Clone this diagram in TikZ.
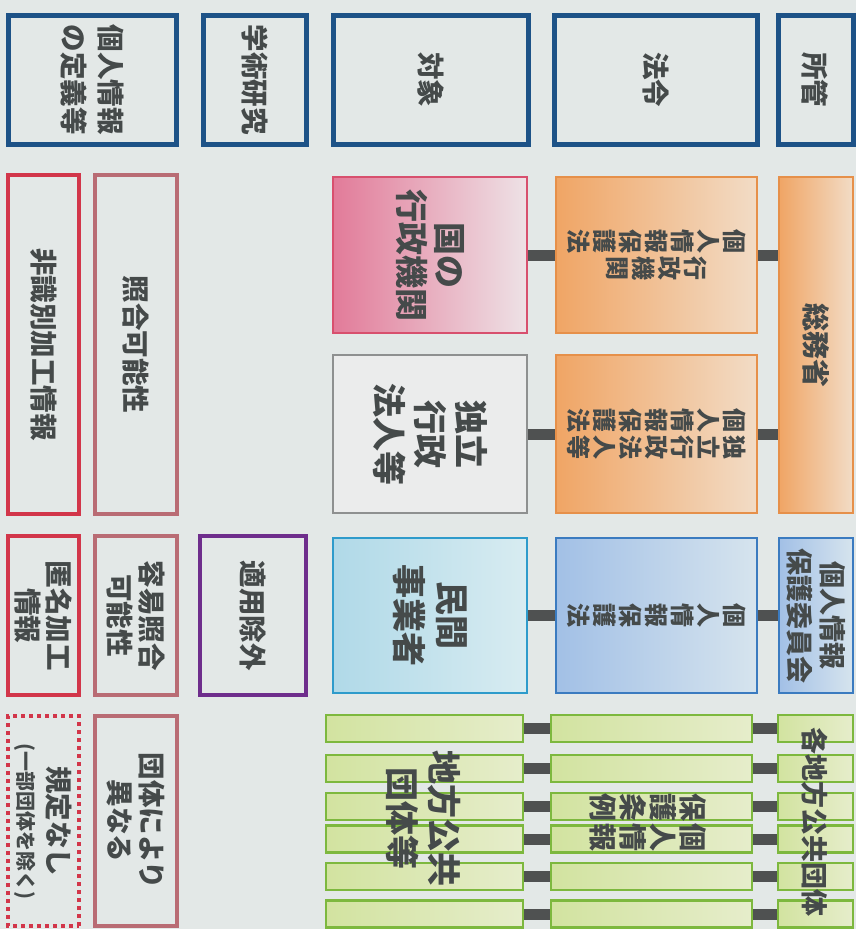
\documentclass[tikz,border=0pt]{standalone}
\usepackage{fontspec}
\setmainfont{Noto Sans CJK JP}
\definecolor{paper}{HTML}{E3E8E7}
\definecolor{ink}{HTML}{454A4A}
\definecolor{hdrBlue}{HTML}{1D5287}
\definecolor{idRed}{HTML}{D2364A}
\definecolor{matchRed}{HTML}{B96C74}
\definecolor{exPurple}{HTML}{6E2D8C}
\definecolor{govRed}{HTML}{D8506E}
\definecolor{govDeep}{HTML}{E27B99}
\definecolor{govPale}{HTML}{EEE2E6}
\definecolor{lawOrange}{HTML}{E6904A}
\definecolor{lawDeep}{HTML}{F0A565}
\definecolor{lawPale}{HTML}{F2DCC6}
\definecolor{incGray}{HTML}{8E9090}
\definecolor{incPale}{HTML}{EBECEC}
\definecolor{pvtBlue}{HTML}{2E9BCB}
\definecolor{pvtDeep}{HTML}{B0D9E8}
\definecolor{pvtPale}{HTML}{D8ECF1}
\definecolor{actBlue}{HTML}{3B7BC0}
\definecolor{actDeep}{HTML}{A2C0E6}
\definecolor{actPale}{HTML}{D6E4EE}
\definecolor{locGreen}{HTML}{7DB83E}
\definecolor{locDeep}{HTML}{D2E3A0}
\definecolor{locPale}{HTML}{E6EDCB}
\definecolor{linkGray}{HTML}{4F5151}
\tikzset{
    cell/.style={rectangle, rotate=-90, align=center, text=ink, inner sep=0pt, font=\bfseries\fontsize{27.5}{34}\selectfont},
    cellHead/.style={cell, draw=hdrBlue, line width=5pt},
    cellId/.style={cell, draw=idRed, line width=4pt},
    cellMatch/.style={cell, draw=matchRed, line width=4pt},
    cellEx/.style={cell, draw=exPurple, line width=4pt},
    cellGov/.style={cell, draw=govRed, line width=1.6pt, left color=govDeep, right color=govPale},
    cellInc/.style={cell, draw=incGray, line width=1.6pt, fill=incPale},
    cellPvt/.style={cell, draw=pvtBlue, line width=1.6pt, left color=pvtDeep, right color=pvtPale},
    cellLaw/.style={cell, draw=lawOrange, line width=1.6pt, left color=lawDeep, right color=lawPale},
    cellAct/.style={cell, draw=actBlue, line width=1.6pt, left color=actDeep, right color=actPale},
    cellLoc/.style={cell, draw=locGreen, line width=2.4pt, left color=locDeep, right color=locPale},
    txt/.style={rotate=-90, align=center, text=ink, inner sep=0pt},
    barLink/.style={draw=linkGray, line width=11pt},
}
% 縦書きの一列
\newcommand{\tate}[1]{\parbox{1em}{\centering\lineskiplimit=-20pt #1}}
% 回転したノードでは north が右側
\newcommand{\drawLink}[2]{
    \draw[barLink] (#1.north) -- (#1.north -| #2.south);
}

\begin{document}
\begin{tikzpicture}[x=1pt, y=-1pt]
        \useasboundingbox (0,0) rectangle (856,929);
        \fill[paper] (0,0) rectangle (856,929);

        \node[cellHead, minimum width=129, minimum height=168, font=\bfseries\fontsize{27.5}{37}\selectfont] (defn) at (92,79.5) {個人情報\\の定義等};
        \node[cellHead, minimum width=129, minimum height=103] (acad) at (254.5,79.5) {学術研究};
        \node[cellHead, minimum width=129, minimum height=195] (target) at (430.5,79.5) {対象};
        \node[cellHead, minimum width=129, minimum height=203] (act) at (656,79.5) {法令};
        \node[cellHead, minimum width=129, minimum height=75] (juris) at (815.5,79.5) {所管};

        \node[cellId, minimum width=339, minimum height=71] (nonid) at (43.5,344.5) {非識別加工情報};
        \node[cellMatch, minimum width=339, minimum height=82] (match) at (136,344.5) {照合可能性};
        \node[cellId, minimum width=159, minimum height=71, font=\bfseries\fontsize{27.5}{31}\selectfont] (anon) at (43.5,615.5) {匿名加工\\情報};
        \node[cellMatch, minimum width=159, minimum height=82, font=\bfseries\fontsize{27.5}{32}\selectfont] (easy) at (136,615.5) {容易照合\\可能性};
        \node[cellEx, minimum width=159, minimum height=106] (exempt) at (253,615.5) {適用除外};
        \node[cellId, minimum width=210, minimum height=71, dash pattern=on 4pt off 4pt, font=\bfseries\fontsize{27.5}{30}\selectfont] (none) at (43.5,821) {規定なし\\{\fontsize{20}{24}\selectfont(一部団体を除く)}};
        \node[cellMatch, minimum width=210, minimum height=82, font=\bfseries\fontsize{27.5}{32}\selectfont] (vary) at (136,821) {団体により\\異なる};

        \node[cellGov, minimum width=156, minimum height=194, font=\bfseries\fontsize{33}{38}\selectfont] (gov) at (430,255) {国の\\行政機関};
        \node[cellInc, minimum width=158, minimum height=194, font=\bfseries\fontsize{34}{41}\selectfont] (inc) at (430,434) {独立\\行政\\法人等};
        \node[cellPvt, minimum width=155, minimum height=194, font=\bfseries\fontsize{34}{43}\selectfont] (pvt) at (430,615.5) {民間\\事業者};

        \node[cellLaw, minimum width=156, minimum height=201, font=\bfseries\fontsize{24}{26}\selectfont] (lawGov) at (656.5,255) {\tate{個\\人\\情\\報\\保\\護\\法}\hspace{3pt}\tate{行\\政\\機\\関}};
        \node[cellLaw, minimum width=158, minimum height=201, font=\bfseries\fontsize{24}{26}\selectfont] (lawInc) at (656.5,434) {\tate{個\\人\\情\\報\\保\\護\\法}\hspace{3pt}\tate{独\\立\\行\\政\\法\\人\\等}};
        \node[cellAct, minimum width=155, minimum height=201, font=\bfseries\fontsize{24}{26}\selectfont] (lawPvt) at (656.5,615.5) {\tate{個\\人\\情\\報\\保\\護\\法}};

        \node[cellLaw, minimum width=336, minimum height=74, font=\bfseries\fontsize{28}{32}\selectfont] (mic) at (816,345) {総務省};
        \node[cellAct, minimum width=155, minimum height=74, font=\bfseries\fontsize{27}{33}\selectfont] (ppc) at (816,615.5) {個人情報\\保護委員会};

        \drawLink{gov}{lawGov}
        \drawLink{lawGov}{mic}
        \drawLink{inc}{lawInc}
        \drawLink{lawInc}{mic}
        \drawLink{pvt}{lawPvt}
        \drawLink{lawPvt}{ppc}

        \foreach \y [count=\i] in {728.5,768.5,806.5,839,876.5,914}{
            \node[cellLoc, minimum width=27, minimum height=197] (loc\i) at (424.5,\y) {};
            \node[cellLoc, minimum width=27, minimum height=201] (ord\i) at (651.5,\y) {};
            \node[cellLoc, minimum width=27, minimum height=75] (pref\i) at (815.5,\y) {};
            \drawLink{loc\i}{ord\i}
            \drawLink{ord\i}{pref\i}
        }

        \node[txt, font=\bfseries\fontsize{34}{42}\selectfont] (locTxt) at (424,818) {地方公共\\団体等};
        \node[txt, font=\bfseries\fontsize{28}{30}\selectfont] (ordTxt) at (648,822) {\tate{保\\護\\条\\例}\hspace{2pt}\tate{個\\人\\情\\報}};
        \node[txt, font=\bfseries\fontsize{27}{30}\selectfont] (prefTxt) at (815,822) {各地方公共団体};

    \end{tikzpicture}
\end{document}
